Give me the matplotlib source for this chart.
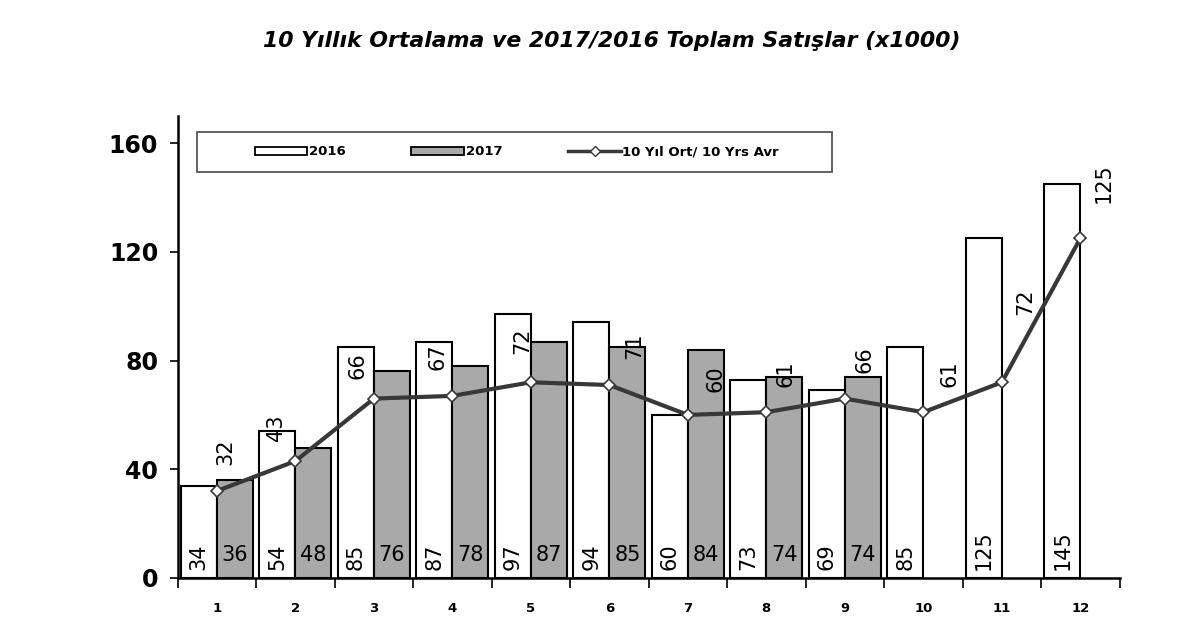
import matplotlib
matplotlib.use("Agg")
import matplotlib.pyplot as plt
from matplotlib.patches import Rectangle
from matplotlib.lines import Line2D
from matplotlib.patches import Patch
import numpy as np

months = [1, 2, 3, 4, 5, 6, 7, 8, 9, 10, 11, 12]
sales_2016 = [34, 54, 85, 87, 97, 94, 60, 73, 69, 85, 125, 145]
sales_2017 = [36, 48, 76, 78, 87, 85, 84, 74, 74]
avg_10y = [32, 43, 66, 67, 72, 71, 60, 61, 66, 61, 72, 125]

title = "10 Yıllık Ortalama ve 2017/2016 Toplam Satışlar (x1000)"
legend_labels = ["2016", "2017", "10 Yıl Ort/ 10 Yrs Avr"]
yticks = [0, 40, 80, 120, 160]

# label placement offsets (points) for the average line labels
avg_dx = [6, -14, -12, -11, -6, 18, 20, 14, 14, 19, 17, 17]
avg_dy = [28, 24, 24, 28, 30, 28, 26, 28, 28, 28, 58, 40]

fig = plt.figure(figsize=(12, 6.44), dpi=100)
ax = fig.add_axes([0.148, 0.1025, 0.785, 0.7175])

x = np.array(months, dtype=float)
w = 0.46
gray = "#a9a9a9"
ax.bar(x - w / 2, sales_2016, width=w, color="white", edgecolor="black", linewidth=1.5, zorder=2)
x17 = x[:len(sales_2017)]
ax.bar(x17 + w / 2, sales_2017, width=w, color=gray, edgecolor="black", linewidth=1.5, zorder=2)
ax.plot(x, avg_10y, color="#383838", linewidth=3, marker="D", markersize=6.5,
        markerfacecolor="white", markeredgecolor="#383838", markeredgewidth=1.2, zorder=4)

for xi, v in zip(x, sales_2016):
    ax.text(xi - w / 2, 3, str(v), rotation=90, ha="center", va="bottom",
            fontsize=15, color="black", zorder=5)
for xi, v in zip(x17, sales_2017):
    ax.text(xi + w / 2, 8.5, str(v), ha="center", va="center",
            fontsize=15, color="black", zorder=5)
for xi, v, dx, dy in zip(x, avg_10y, avg_dx, avg_dy):
    ax.annotate(str(v), (xi, v), xytext=(dx, dy), textcoords="offset points",
                rotation=90, ha="center", va="center", fontsize=15, color="black", zorder=5)

ax.set_xlim(0.5, 12.5)
ax.set_ylim(0, 170)
ax.set_yticks(yticks)
ax.set_yticklabels([str(t) for t in yticks], fontsize=17, fontweight="bold")
ax.tick_params(axis="y", direction="out", length=6, width=1.2, pad=8)

ax.set_xticks(x)
ax.set_xticklabels([str(m) for m in months], fontsize=9.5, fontweight="bold")
ax.set_xticks(np.arange(0.5, 13, 1.0), minor=True)
ax.tick_params(axis="x", which="major", length=0, pad=17)
ax.tick_params(axis="x", which="minor", direction="out", length=7, width=1.2)

for s in ["top", "right"]:
    ax.spines[s].set_visible(False)
for s in ["left", "bottom"]:
    ax.spines[s].set_linewidth(1.8)
    ax.spines[s].set_color("black")

# legend box
ax.add_patch(Rectangle((0.021, 0.879), 0.674, 0.086, transform=ax.transAxes,
                       facecolor="white", edgecolor="#555555", linewidth=1.3, zorder=6))
handles = [Patch(facecolor="white", edgecolor="black", linewidth=1.3),
           Patch(facecolor=gray, edgecolor="black", linewidth=1.3),
           Line2D([0], [0], color="#383838", linewidth=2.5, marker="D", markersize=5,
                  markerfacecolor="white", markeredgecolor="#383838")]
leg = ax.legend(handles, legend_labels, loc="center", bbox_to_anchor=(0.36, 0.922),
                ncol=3, frameon=False, prop={"size": 9.5, "weight": "bold"},
                handlelength=4.0, handleheight=0.6, handletextpad=0.1, columnspacing=5.0)
leg.set_zorder(7)

fig.text(0.51, 0.937, title, ha="center", va="center", fontsize=15.8,
         fontweight="bold", fontstyle="italic")

fig.savefig("out.png", dpi=100)
